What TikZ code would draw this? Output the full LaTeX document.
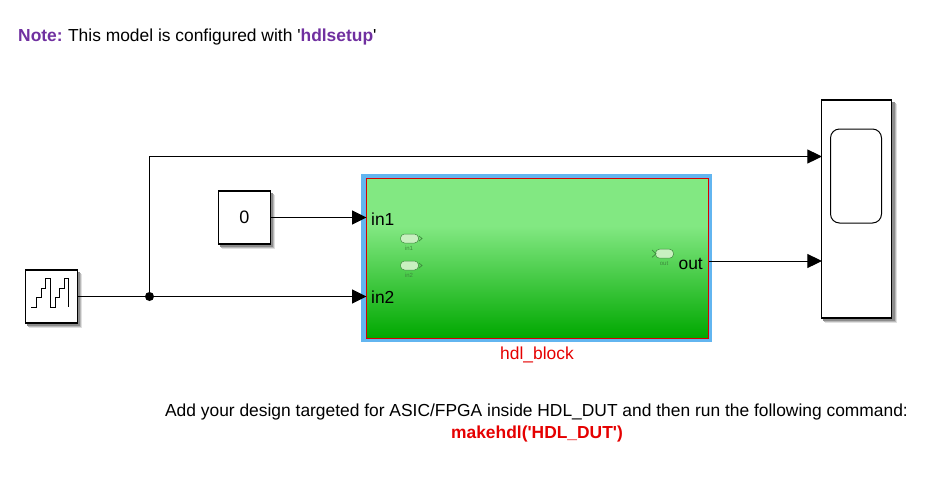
\documentclass[tikz,border=0pt]{standalone}
\usepackage{fontspec}
\setmainfont{Liberation Sans}[Ligatures=TeXOff]
\usetikzlibrary{arrows.meta,backgrounds,calc}
\definecolor{notepurple}{HTML}{7030A0}
\definecolor{framecyan}{HTML}{62B5F0}
\definecolor{portline}{HTML}{3E8A3E}
\definecolor{pillfill}{HTML}{C8F0C0}
\definecolor{hdltop}{HTML}{82E882}
\definecolor{hdlbottom}{HTML}{00A800}
\pgfdeclareverticalshading{hdlgreen}{100bp}{color(0bp)=(hdlbottom); color(25bp)=(hdlbottom); color(60bp)=(hdltop); color(75bp)=(hdltop); color(100bp)=(hdltop)}
\newcommand{\softshadow}[1]{%
  \begin{scope}[on background layer]
    \foreach \off/\shade in {4.5/12,3.5/28,2.5/45}
      \fill[black!\shade] ($(#1.north west)+(\off,\off)$) rectangle ($(#1.south east)+(\off,\off)$);
  \end{scope}}
\begin{document}
\begin{tikzpicture}[
    x=1pt, y=-1pt,
    txt/.style={font=\fontsize{17.4}{20}\selectfont, inner sep=0pt},
    block/.style={draw=black, line width=1.2pt, fill=white, inner sep=0pt},
    sig/.style={-{Triangle[length=14.5pt, width=14pt]}, line width=1pt, shorten >=-1pt},
    wire/.style={line width=1pt},
    pill/.style={draw=portline, line width=.5pt, fill=pillfill, rounded corners=4pt, minimum width=18pt, minimum height=9pt, inner sep=0pt},
    tiny/.style={font=\fontsize{6}{7}\selectfont, text=portline, inner sep=0pt},
    chev/.style={draw=portline, line width=.7pt}
  ]
    \useasboundingbox (0,0) rectangle (937,477);

    \node[txt, anchor=west] (note) at (18,36.5) {\textcolor{notepurple}{\textbf{Note:}}\hspace{-1pt} This model is configured with '\textcolor{notepurple}{\textbf{hdlsetup}}'};

    \node[block, minimum width=52pt, minimum height=53pt] (src) at (51.3,296.5) {};
    \softshadow{src}
    \draw[line width=1pt] (31,307.3) -- (36.3,307.3) -- (36.3,297.3) -- (41,297.3) -- (41,288) -- (45.7,288) -- (45.7,278.3) -- (50.3,278.3) -- (50.3,307.3) -- (55,307.3) -- (55,297.3) -- (59.7,297.3) -- (59.7,288) -- (64.3,288) -- (64.3,278.3) -- (68.3,278.3) -- (68.3,307.3);

    \node[block, minimum width=52pt, minimum height=53pt, font=\fontsize{18}{20}\selectfont] (const) at (244.3,217.5) {0};
    \softshadow{const}

    \node[fill=framecyan, minimum width=351pt, minimum height=168pt, inner sep=0pt] (frame) at (536.5,258) {};
    \node[draw=red!85!black, line width=1pt, shading=hdlgreen, minimum width=342pt, minimum height=160pt, inner sep=0pt] (hdl) at (537,258) {};

    \node[block, minimum width=70pt, minimum height=218pt] (scope) at (856.5,209) {};
    \softshadow{scope}
    \node[draw=black, line width=1pt, rounded corners=9pt, minimum width=51pt, minimum height=94pt, inner sep=0pt] (screen) at (856,176) {};

    \node[txt, anchor=west] (in1) at (371,219) {in1};
    \node[txt, anchor=west] (in2) at (371,297.5) {in2};
    \node[txt, anchor=east] (out) at (703,263.5) {out};

    \node[pill] (p1) at (409.5,238.5) {};
    \node[pill] (p2) at (409.5,265.5) {};
    \node[pill] (p3) at (664.5,253.7) {};
    \draw[chev] (419,236) -- (422,238.5) -- (419,241);
    \draw[chev] (419,263) -- (422,265.5) -- (419,268);
    \draw[chev] (652,250) -- (656,253.7) -- (652,257.4);
    \node[tiny] (p1lab) at (409,248.5) {in1};
    \node[tiny] (p2lab) at (409,275.5) {in2};
    \node[tiny] (p3lab) at (664,263.5) {out};

    \coordinate (hdlin1) at (hdl.west |- const);
    \coordinate (hdlout) at (hdl.east |- 0,261);
    \coordinate (scopein1) at (scope.west |- 0,156.5);
    \coordinate (scopein2) at (scope.west |- 0,261);
    \node[circle, fill=black, minimum size=9pt, inner sep=0pt] (junc) at (149.5,296.5) {};

    \draw[wire] (src) -- (junc);
    \draw[sig] (junc) -- (junc -| hdl.west);
    \draw[sig] (junc) |- (scopein1);
    \draw[sig] (const) -- (hdlin1);
    \draw[sig] (hdlout) -- (scopein2);

    \node[txt, text=red!90!black, anchor=center] (name) at (537,355) {hdl\_block};
    \node[txt, anchor=center] (msg) at (536.5,411.5) {Add your design targeted for ASIC/FPGA inside HDL\_DUT and then run the following command:};
    \node[txt, text=red!90!black, font=\fontsize{17.4}{20}\selectfont\bfseries, anchor=center] (cmd) at (537,433.5) {makehdl('HDL\_DUT')};
  \end{tikzpicture}
\end{document}
